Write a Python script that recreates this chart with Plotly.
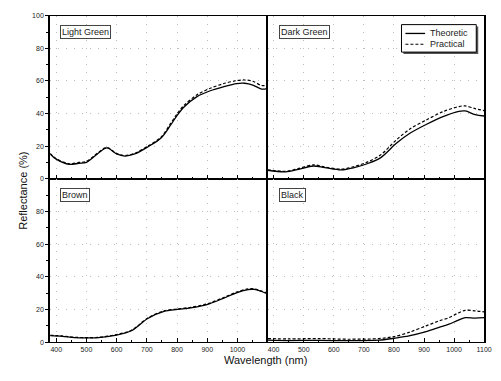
import plotly.graph_objects as go

# ---- data ----
wl_lg = [380, 400, 443, 475, 500, 540, 568, 600, 627, 660, 703, 747, 779, 801, 823, 866, 910, 953, 997, 1024, 1051, 1080, 1100]
lg_theo = [15.2, 12, 8.8, 9.5, 10, 15.8, 18.9, 15.2, 13.9, 15.2, 19.5, 25, 33, 39, 44, 50.4, 54, 56.4, 58.4, 58.6, 57.5, 55, 55.5]
lg_prac = [15.5, 12.3, 9.2, 10, 10.6, 16.2, 19.2, 15.4, 14.2, 15.6, 20, 25.5, 34, 40, 45, 51.5, 55.5, 58.3, 60.2, 60.6, 59.8, 57.2, 57.5]

wl_dg = [380, 440, 483, 532, 570, 625, 668, 711, 755, 809, 853, 907, 961, 1016, 1037, 1070, 1100]
dg_theo = [5.2, 4.2, 5.8, 7.8, 6.8, 5.4, 6.8, 9.2, 12.8, 21.9, 27.9, 33.3, 38, 41.4, 41.6, 39.3, 38.5]
dg_prac = [5.5, 4.6, 6.3, 8.5, 7.2, 5.9, 7.5, 10.2, 14.5, 24, 30.5, 36, 41, 44.3, 44.7, 43, 41.8]

wl_br = [380, 420, 460, 500, 540, 595, 649, 703, 757, 801, 845, 899, 953, 997, 1035, 1056, 1080, 1100]
br_theo = [4, 3.6, 2.8, 2.6, 2.8, 4.2, 7, 14.5, 18.8, 20, 21, 23, 26.8, 30.2, 32.2, 32.3, 31, 29.6]
br_prac = [4.2, 3.8, 3.0, 2.8, 3.0, 4.5, 7.3, 14.8, 19.2, 20.3, 21.3, 23.4, 27.2, 30.6, 32.6, 32.6, 31.3, 30]

wl_bk = [380, 450, 550, 650, 750, 800, 850, 907, 950, 983, 1010, 1037, 1070, 1100]
bk_theo = [1.2, 1.0, 1.1, 0.9, 1.2, 2.4, 3.8, 6.4, 9, 11, 13.2, 15, 14.7, 15]
bk_prac = [2.2, 2.0, 2.2, 1.8, 2.2, 3.4, 6, 10, 13, 15, 17.5, 19.5, 19.2, 18.5]

panel_names = ["Light Green", "Dark Green", "Brown", "Black"]
legend_names = ["Theoretic", "Practical"]
x_ticks_left = [400, 500, 600, 700, 800, 900, 1000]
x_ticks_right = [400, 500, 600, 700, 800, 900, 1000, 1100]
y_ticks_top = [0, 20, 40, 60, 80, 100]
y_ticks_bottom = [0, 20, 40, 60, 80]

FONT = "Arial, Liberation Sans, sans-serif"
W, H = 501, 381
xl0, xm, xr1 = 51 / W, 272 / W, 492 / W
yt1, ym, yb0 = 1 - 12 / H, 1 - 178 / H, 1 - 344.5 / H

fig = go.Figure()

panels = [
    (wl_lg, lg_theo, lg_prac, "x", "y"),
    (wl_dg, dg_theo, dg_prac, "x2", "y2"),
    (wl_br, br_theo, br_prac, "x3", "y3"),
    (wl_bk, bk_theo, bk_prac, "x4", "y4"),
]
for i, (wl, th, pr, xa, ya) in enumerate(panels):
    fig.add_trace(go.Scatter(x=wl, y=th, xaxis=xa, yaxis=ya, mode="lines",
                             line=dict(color="black", width=1.3, shape="spline", smoothing=0.9),
                             name=legend_names[0], showlegend=False))
    fig.add_trace(go.Scatter(x=wl, y=pr, xaxis=xa, yaxis=ya, mode="lines",
                             line=dict(color="black", width=1.2, dash="3px,2px", shape="spline", smoothing=0.9),
                             name=legend_names[1], showlegend=False))

common_x = dict(range=[380, 1100], showline=True, linecolor="black", linewidth=1, mirror=True,
                ticks="inside", ticklen=4, tickcolor="black",
                showgrid=True, gridcolor="#bdbdbd", griddash="1px,7px", gridwidth=1, zeroline=False,
                minor=dict(ticks="inside", ticklen=2, dtick=50, tickcolor="black", showgrid=False),
                tickfont=dict(family=FONT, size=7, color="#222"))
common_y = dict(range=[0, 100], showline=True, linecolor="black", linewidth=1, mirror=False,
                ticks="outside", ticklen=3, tickcolor="black",
                showgrid=True, gridcolor="#bdbdbd", griddash="1px,7px", gridwidth=1, zeroline=False,
                minor=dict(ticks="outside", ticklen=2, dtick=10, tickcolor="black", showgrid=False),
                tickfont=dict(family=FONT, size=7, color="#222"))

fig.update_layout(
    width=W, height=H, margin=dict(l=0, r=0, t=0, b=0),
    paper_bgcolor="white", plot_bgcolor="white",
    xaxis=dict(common_x, domain=[xl0, xm], anchor="y", tickvals=x_ticks_left, showticklabels=False),
    yaxis=dict(common_y, domain=[ym, yt1], anchor="x", tickvals=y_ticks_top, linewidth=2),
    xaxis2=dict(common_x, domain=[xm, xr1], anchor="y2", tickvals=x_ticks_right, showticklabels=False),
    yaxis2=dict(common_y, domain=[ym, yt1], anchor="x2", tickvals=y_ticks_top, showticklabels=False, ticks="",
                minor=dict(ticks=""), mirror=True, linewidth=1.5),
    xaxis3=dict(common_x, domain=[xl0, xm], anchor="y3", tickvals=x_ticks_left),
    yaxis3=dict(common_y, domain=[yb0, ym], anchor="x3", tickvals=y_ticks_bottom, linewidth=2),
    xaxis4=dict(common_x, domain=[xm, xr1], anchor="y4", tickvals=x_ticks_right),
    yaxis4=dict(common_y, domain=[yb0, ym], anchor="x4", tickvals=y_ticks_bottom, showticklabels=False, ticks="",
                minor=dict(ticks=""), mirror=True, linewidth=1.5),
    showlegend=False,
)

# legend box (decoration) drawn in paper coordinates
def px(x):
    return x / W
def py(y):
    return 1 - y / H

fig.add_shape(type="rect", xref="paper", yref="paper", x0=px(410), x1=px(486), y0=py(23), y1=py(51),
              fillcolor="#555", line=dict(width=0), layer="above")
fig.add_shape(type="rect", xref="paper", yref="paper", x0=px(408), x1=px(484), y0=py(21), y1=py(49),
              fillcolor="white", line=dict(color="black", width=1), layer="above")
fig.add_shape(type="line", xref="paper", yref="paper", x0=px(412), x1=px(432), y0=py(30), y1=py(30),
              line=dict(color="black", width=1.3), layer="above")
fig.add_shape(type="line", xref="paper", yref="paper", x0=px(412), x1=px(432), y0=py(41), y1=py(41),
              line=dict(color="black", width=1.2, dash="3px,2px"), layer="above")
for name, yy in zip(legend_names, [30, 41]):
    fig.add_annotation(x=px(435), y=py(yy), xref="paper", yref="paper", xanchor="left", yanchor="middle",
                       text=name, showarrow=False, font=dict(family=FONT, size=9, color="#222"))

label_pos = [(61, 21), (284, 21), (61, 187), (284, 187)]
for name, (lx, ly) in zip(panel_names, label_pos):
    fig.add_annotation(x=px(lx), y=py(ly), xref="paper", yref="paper", xanchor="left", yanchor="top",
                       text=name, showarrow=False, font=dict(family=FONT, size=9, color="#222"),
                       bordercolor="#444", borderwidth=1, borderpad=1, bgcolor="white")

fig.add_annotation(x=px(15), y=0.5, xref="paper", yref="paper", text="Reflectance (%)", textangle=-90,
                   showarrow=False, font=dict(family=FONT, size=11, color="#111"))
fig.add_annotation(x=px(270), y=py(371), xref="paper", yref="paper", text="Wavelength (nm)",
                   showarrow=False, font=dict(family=FONT, size=11, color="#111"))

fig.write_html("out.html")
